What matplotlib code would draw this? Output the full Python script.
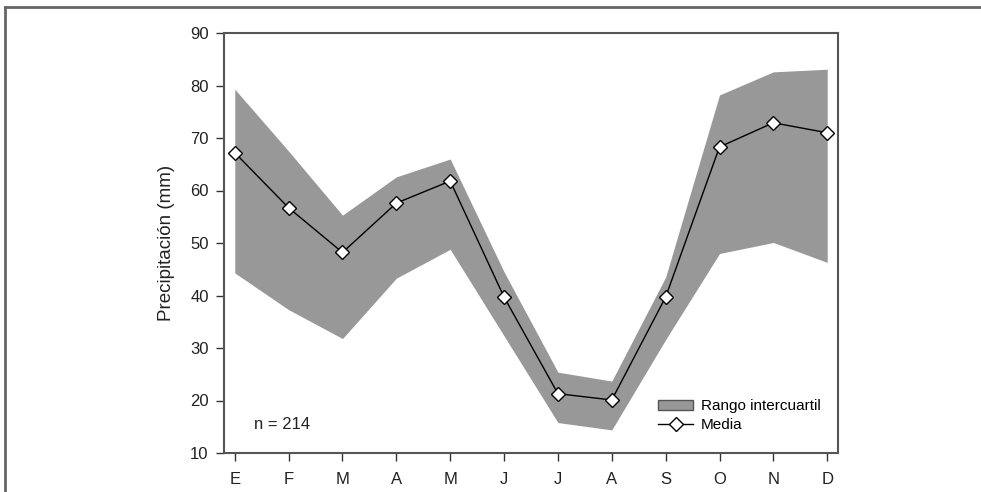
import matplotlib
matplotlib.use("Agg")
import matplotlib.pyplot as plt
from matplotlib.lines import Line2D
from matplotlib.patches import Patch

months = ["E", "F", "M", "A", "M", "J", "J", "A", "S", "O", "N", "D"]
media = [67.2, 56.7, 48.2, 57.6, 61.8, 39.7, 21.3, 20.1, 39.7, 68.3, 72.9, 71.0]
q_upper = [79.3, 67.5, 55.3, 62.6, 66.0, 44.5, 25.4, 23.7, 43.5, 78.2, 82.6, 83.1]
q_lower = [44.3, 37.3, 31.8, 43.3, 48.8, 32.3, 15.8, 14.4, 31.6, 48.0, 50.1, 46.3]
n_label = "n = 214"

plt.rcParams['font.family'] = ['Liberation Sans', 'DejaVu Sans']

fig = plt.figure(figsize=(9.81, 4.92), dpi=100)
ax = fig.add_axes([224/981, 1-453/492, (838-224)/981, (453-33)/492])

x = list(range(1, len(months) + 1))
band_color = "#989898"
ax.fill_between(x, q_lower, q_upper, color=band_color, linewidth=0, zorder=1)
ax.plot(x, media, color="black", linewidth=1.0, marker="D", markersize=7,
        markerfacecolor="white", markeredgecolor="black", markeredgewidth=1.0, zorder=3)

ax.set_xlim(0.8, 12.2)
ax.set_ylim(10, 90)
ax.set_xticks(x)
ax.set_xticklabels(months)
ax.set_yticks(range(10, 91, 10))
ax.tick_params(axis="both", direction="out", length=6, width=1.0, colors="#333333",
               labelsize=12, labelcolor="#222222")
ax.tick_params(axis="x", pad=8)
ax.tick_params(axis="y", pad=5)
ax.set_ylabel("Precipitación (mm)", fontsize=13.5, color="#222222", labelpad=11)
for s in ax.spines.values():
    s.set_color("#555555")
    s.set_linewidth(1.5)

ax.text(1.36, 15.5, n_label, fontsize=12, ha="left", va="center", color="#222222")

handles = [Patch(facecolor=band_color, edgecolor="#555555", linewidth=1.0),
           Line2D([], [], color="black", linewidth=1.0, marker="D", markersize=7,
                  markerfacecolor="white", markeredgecolor="black")]
ax.legend(handles, ["Rango intercuartil", "Media"], loc="upper left",
          bbox_to_anchor=(0.697, 0.142), frameon=False, fontsize=11,
          handlelength=2.3, handletextpad=0.5, labelspacing=0.3, borderaxespad=0)

# outer frame lines (top and left)
fig.add_artist(Line2D([5/981, 1], [1-7/492, 1-7/492], color="#666666", linewidth=2,
                      transform=fig.transFigure))
fig.add_artist(Line2D([5/981, 5/981], [0, 1-7/492], color="#666666", linewidth=2,
                      transform=fig.transFigure))

fig.savefig("out.png", dpi=100)
